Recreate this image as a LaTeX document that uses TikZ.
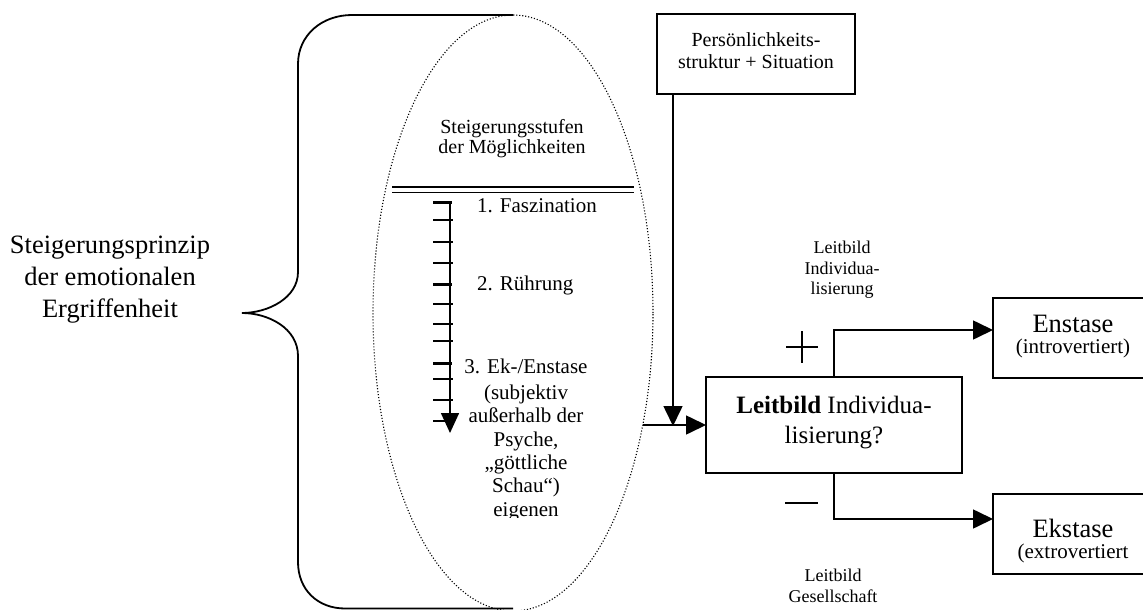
\documentclass[tikz,border=0pt]{standalone}
\usepackage{fontspec}
\setmainfont{Liberation Serif}
\usetikzlibrary{arrows.meta,shapes.geometric}
\begin{document}
\begin{tikzpicture}[x=1pt,y=-1pt,
  box/.style={draw, line width=1.8pt, inner sep=0pt, outer sep=0pt},
  conn/.style={line width=1.6pt},
  arr/.style={conn, -{Triangle[length=20pt,width=19pt]}},
  dots/.style={line width=1.1pt, dash pattern=on 1.1pt off 1.9pt},
  bracelined/.style={line width=1.8pt},
  txt/.style={inner sep=0pt, anchor=base},
  txtw/.style={inner sep=0pt, anchor=base west},
  fbig/.style={font=\fontsize{26.5}{32}\selectfont},
  fmid/.style={font=\fontsize{25}{30}\selectfont},
  fnorm/.style={font=\fontsize{21}{23.5}\selectfont},
  fhead/.style={font=\fontsize{20}{21}\selectfont},
  fsmall/.style={font=\fontsize{18}{21}\selectfont},
  sign/.style={line width=1.5pt}
]
\useasboundingbox (0,0) rectangle (1143,610);
\clip (0,0) rectangle (1143,610);

% dotted ellipse holding the scale
\node[ellipse, draw, dots, minimum width=280pt, minimum height=596pt,
      inner sep=0pt, outer sep=0pt] (ell) at (513,313) {};

% curly brace on the left
\draw[bracelined] (ell.north) -- (352,15)
  .. controls (322,15) and (298,35) .. (298,64) -- (298,272)
  .. controls (298,298) and (268,313) .. (242,313)
  .. controls (268,313) and (298,328) .. (298,356) -- (298,562)
  .. controls (298,590) and (318,608.5) .. (345,608.5) -- (513,608.5);

% left caption
\node[txt, fbig] (c1) at (110,253) {Steigerungsprinzip};
\node[txt, fbig] (c2) at (110,285) {der emotionalen};
\node[txt, fbig] (c3) at (110,317) {Ergriffenheit};

% heading inside the ellipse
\node[txt, fhead] (h1) at (512,133) {Steigerungsstufen};
\node[txt, fhead] (h2) at (512,153.5) {der Möglichkeiten};
\draw[line width=1.5pt] (392,187) -- (634,187);
\draw[line width=1.5pt] (392,192.5) -- (634,192.5);

% graded scale
\draw[line width=1.6pt, -{Triangle[length=20pt,width=18pt]}] (450,202) -- (450,433);
\foreach \y in {202,284,363} \draw[line width=3pt] (433,\y) -- (452,\y);
\foreach \y in {220,242,263,304,324,341,379,400,421} \draw[line width=1.5pt] (433,\y) -- (453,\y);

\node[txtw, fnorm] (s1) at (477,212) {1. Faszination};
\node[txtw, fnorm] (s2) at (477,290) {2. Rührung};
\begin{scope}
  \clip (440,340) rectangle (620,517);
  \node[txt, fnorm] (s3a) at (526,373) {3. Ek-/Enstase};
  \node[txt, fnorm] (s3b) at (526,399) {(subjektiv};
  \node[txt, fnorm] (s3c) at (526,422.5) {außerhalb der};
  \node[txt, fnorm] (s3d) at (526,446) {Psyche,};
  \node[txt, fnorm] (s3e) at (526,469) {„göttliche};
  \node[txt, fnorm] (s3f) at (526,492.5) {Schau“)};
  \node[txt, fnorm] (s3g) at (526,516) {eigenen};
\end{scope}

% boxes
\node[box, minimum width=198pt, minimum height=80pt] (pers) at (756,54) {};
\node[txt, fhead] (p1) at (756,47) {Persönlichkeits-};
\node[txt, fhead] (p2) at (756,68) {struktur + Situation};

\node[box, minimum width=256pt, minimum height=96pt] (lb) at (834,425) {};
\node[txt, fmid] (l1) at (834,413) {\textbf{Leitbild} Individua-};
\node[txt, fmid] (l2) at (834,443) {lisierung?};

\node[box, minimum width=160pt, minimum height=80pt] (en) at (1073,338) {};
\node[txt, fbig] (en1) at (1073,332) {Enstase};
\node[txt, fnorm] (en2) at (1073,353) {(introvertiert)};

\node[box, minimum width=160pt, minimum height=80pt] (ek) at (1073,534) {};
\node[txt, fbig] (ek1) at (1073,537) {Ekstase};
\node[txt, fnorm] (ek2) at (1073,558) {(extrovertiert};

% branch labels
\node[txt, fsmall] (u1) at (842,253) {Leitbild};
\node[txt, fsmall] (u2) at (842,274) {Individua-};
\node[txt, fsmall] (u3) at (842,294) {lisierung};
\node[txt, fsmall] (d1) at (833,581) {Leitbild};
\node[txt, fsmall] (d2) at (833,602) {Gesellschaft};

\draw[sign] (786,347) -- (818,347) (802,331) -- (802,363);
\draw[sign] (785,503) -- (818,503);

% connectors
\coordinate (join) at (673,426);
\draw[arr] (pers.south -| join) -- (join);
\draw[arr] (lb.west -| ell.-41) -- (lb.west);
\draw[arr] (lb.north) |- ([yshift=8pt]en.west);
\draw[arr] (lb.south) |- ([yshift=15pt]ek.west);
\end{tikzpicture}
\end{document}
